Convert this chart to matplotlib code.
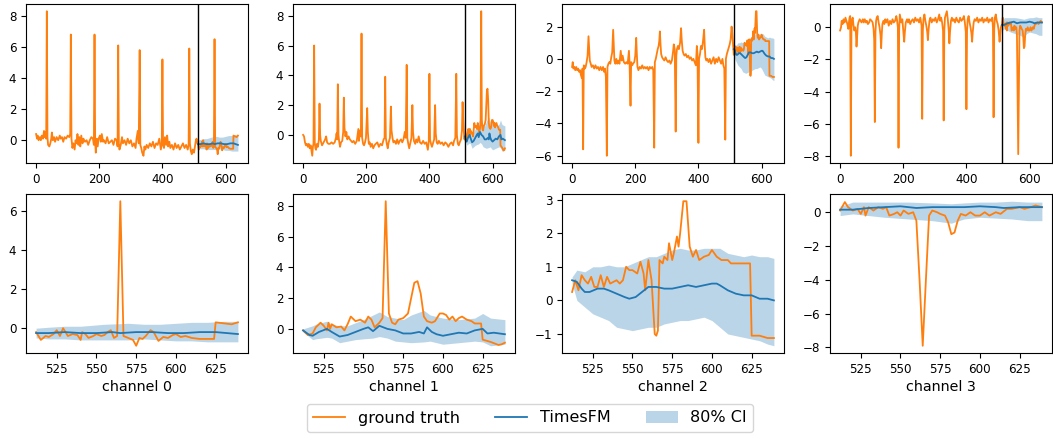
import matplotlib
matplotlib.use("Agg")
import matplotlib.pyplot as plt
from matplotlib.lines import Line2D
from matplotlib.patches import Patch
from matplotlib.ticker import MultipleLocator

CONTEXT_END = 512
channel_names = ["channel 0", "channel 1", "channel 2", "channel 3"]

# ---- observed context (t < 512), (t, value) vertices ----
history_ch0 = [(0, 0.4), (3, 0.1), (5, 0.3), (8, 0.0), (12, 0.2), (15, 0.0), (18, 0.3), (22, 0.1), (25, 0.6), (27, 0.2),
               (30, 0.5), (32, 0.1), (34, 8.3), (36, 0.2), (38, -0.3), (42, -0.4), (45, -0.2), (48, 0.1), (50, 0.5),
               (53, 0.0), (57, 0.2), (60, -0.1), (65, 0.2), (70, 0.0), (75, 0.3), (78, 0.1), (82, 0.2), (86, -0.1),
               (90, 0.2), (95, 0.1), (100, 0.3), (105, 0.2), (108, 0.4), (110, 6.8), (112, 0.1), (115, -0.5),
               (118, -0.2), (122, -0.6), (125, 0.0), (128, -0.2), (131, 0.4), (134, -0.3), (137, 0.2), (140, -0.4),
               (143, 0.3), (147, -0.2), (150, 0.1), (155, -0.1), (160, 0.0), (165, -0.3), (170, 0.0), (175, 0.2),
               (180, 0.1), (183, -0.3), (185, 6.8), (187, -0.1), (189, -0.8), (192, 0.1), (195, -0.4), (198, 0.1),
               (202, 0.3), (205, -0.1), (208, 0.4), (212, -0.1), (215, 0.0), (220, -0.2), (225, 0.2), (230, -0.2),
               (235, -0.1), (240, 0.0), (245, -0.3), (250, 0.1), (255, 0.0), (258, -0.4), (260, 6.1), (262, -0.2),
               (264, -0.6), (268, -0.3), (272, 0.2), (275, -0.2), (280, 0.0), (285, -0.3), (290, 0.1), (295, -0.2),
               (300, 0.0), (305, -0.4), (310, -0.2), (315, -0.5), (318, 0.1), (322, 0.6), (325, -0.2), (328, 5.8),
               (330, -0.3), (333, -0.5), (336, -0.8), (340, -1.0), (343, -0.4), (346, -0.6), (350, -0.3), (355, -0.5),
               (360, -0.2), (365, -0.4), (370, -0.1), (375, -0.5), (380, -0.2), (385, -0.3), (390, 0.1), (395, -0.6),
               (398, -0.2), (400, 5.2), (402, -0.3), (405, -0.5), (408, 0.2), (412, -0.3), (415, 0.3), (418, -0.4),
               (422, -0.1), (425, -0.5), (430, -0.3), (435, -0.6), (440, -0.2), (445, -0.5), (450, -0.3), (455, -0.6),
               (460, -0.4), (465, -0.2), (470, -0.5), (475, -0.3), (480, -0.6), (483, -0.3), (485, 5.9), (487, -0.2),
               (490, -0.7), (493, -0.9), (496, -0.6), (500, -0.8), (503, -0.4), (506, 0.0), (508, 0.1), (511, -0.2)]

history_ch1 = [(0, 0.0), (3, -0.1), (6, -0.5), (9, -0.7), (12, -0.6), (15, -0.8), (18, -0.6), (21, -0.9), (24, -0.7),
               (27, -1.1), (29, -1.4), (31, -0.8), (33, -0.6), (35, 6.0), (37, -0.5), (39, -0.9), (41, -1.0), (44, -0.6),
               (47, -0.8), (50, -0.3), (52, 2.1), (54, 0.0), (56, -0.4), (60, -0.7), (65, -0.5), (70, -0.3), (73, -0.1),
               (76, -0.5), (80, -0.6), (85, -0.6), (90, -0.5), (95, -0.6), (100, -0.5), (104, -0.2), (106, 0.1),
               (108, -0.3), (110, 3.4), (112, 0.0), (114, -0.4), (117, -0.8), (120, -0.5), (124, -0.4), (127, 0.2),
               (129, 2.5), (131, 0.5), (134, -0.1), (137, 0.2), (140, -0.3), (144, -0.1), (148, -0.3), (152, -0.4),
               (156, -0.5), (160, -0.4), (165, -0.6), (170, -0.4), (175, 0.4), (177, -0.4), (180, 0.3), (183, -0.1),
               (185, 6.8), (187, -0.2), (190, -0.6), (193, -0.7), (196, -0.5), (199, -0.2), (203, 1.8), (205, 0.2),
               (208, -0.6), (211, -0.5), (214, -0.8), (218, -0.6), (222, -0.9), (226, -0.7), (230, -0.6), (235, -0.5),
               (240, -0.8), (245, -0.6), (250, -0.7), (255, -0.3), (258, -0.2), (260, 3.9), (262, -0.2), (265, -0.6),
               (268, -0.9), (271, -0.5), (275, -0.2), (278, 1.9), (280, 0.3), (283, -0.2), (286, -0.5), (290, -0.4),
               (294, -0.6), (298, -0.3), (302, -0.6), (306, -0.4), (310, -0.3), (314, -0.5), (318, -0.3), (322, 0.2),
               (325, -0.2), (328, 4.7), (330, -0.2), (333, -0.6), (336, -0.9), (340, -0.5), (343, -0.2), (346, 2.0),
               (348, 0.2), (351, -0.4), (355, -0.6), (358, -0.3), (362, -0.5), (366, -0.1), (370, -0.5), (375, -0.6),
               (380, -0.4), (385, -0.6), (390, -0.5), (395, -1.0), (398, -0.4), (400, 4.1), (402, -0.3), (405, -0.6),
               (408, -0.8), (412, -0.5), (415, -0.3), (418, 2.0), (420, 0.1), (423, -0.5), (426, -0.6), (430, -0.4),
               (435, -0.6), (440, -0.5), (445, -0.7), (450, -0.5), (455, -0.6), (460, -0.8), (465, -0.6), (470, -0.5),
               (475, -0.7), (478, -0.4), (482, -0.2), (485, 4.1), (487, 0.0), (490, -0.6), (493, -0.7), (496, -0.5),
               (500, -0.3), (503, 0.3), (505, 2.2), (507, 1.0), (509, 0.2), (511, -0.3)]

history_ch2 = [(0, -0.5), (2, -0.2), (4, -0.6), (7, -0.5), (10, -0.7), (13, -0.5), (16, -0.7), (19, -0.6), (22, -0.8),
               (25, -0.7), (28, -1.0), (31, -1.2), (33, -0.6), (35, -5.6), (37, -0.4), (40, -0.6), (43, -0.5), (46, -0.2),
               (49, 0.2), (52, 1.4), (54, 0.6), (56, -0.1), (59, -0.3), (62, -0.5), (66, -0.4), (70, -0.6), (74, -0.4),
               (78, -0.6), (82, -0.5), (86, -0.7), (90, -0.5), (94, -0.7), (98, -0.5), (101, -0.8), (104, -0.6),
               (107, -1.1), (110, -6.0), (112, -0.5), (115, -0.3), (118, -0.2), (121, -0.3), (124, 0.1), (127, 0.4),
               (130, 1.8), (132, 0.8), (134, -0.1), (137, -0.3), (140, 0.0), (143, -0.3), (146, -0.1), (150, -0.3),
               (154, 0.5), (157, -0.1), (160, 0.2), (164, -0.2), (168, -0.3), (172, -0.2), (176, -0.3), (180, 0.5),
               (182, -0.3), (185, -2.9), (187, -0.2), (190, -0.4), (193, -0.3), (197, -0.2), (200, 0.2), (203, 1.3),
               (205, 0.3), (207, -0.5), (210, -0.7), (214, -0.5), (218, -0.6), (222, -0.4), (226, -0.6), (230, -0.5),
               (234, -0.6), (238, -0.5), (242, -0.7), (246, -0.5), (250, -0.6), (254, -0.5), (257, -0.7), (260, -5.5),
               (262, -0.2), (265, 0.0), (268, 0.3), (271, 0.6), (274, 0.8), (276, 1.1), (278, 1.7), (280, 0.9),
               (282, 0.3), (285, 0.1), (288, 0.0), (292, -0.1), (296, 0.1), (300, -0.1), (304, -0.2), (308, -0.1),
               (312, -0.3), (316, -0.1), (320, 0.5), (322, 0.9), (325, 0.6), (328, -4.5), (330, 0.2), (332, 0.6),
               (335, 0.8), (338, 0.6), (342, 1.0), (345, 1.9), (347, 1.2), (350, 0.5), (353, 0.3), (356, 0.2),
               (360, 0.3), (364, 0.1), (368, 0.2), (372, 0.0), (376, 0.1), (380, -0.1), (384, 0.0), (388, -0.2),
               (392, -0.4), (395, 0.8), (397, 0.3), (400, -5.2), (402, 0.0), (405, 0.3), (408, 0.8), (411, 0.6),
               (414, 1.0), (418, 1.8), (420, 0.8), (422, 0.1), (425, -0.1), (428, 0.0), (432, -0.2), (436, 0.0),
               (440, -0.3), (444, -0.1), (448, 0.1), (452, -0.3), (456, 0.0), (460, -0.2), (464, 0.1), (468, -0.1),
               (472, -0.3), (476, 0.0), (479, -0.4), (482, -0.6), (485, -5.0), (487, 0.0), (490, 0.3), (493, 0.5),
               (496, 0.7), (499, 0.9), (502, 1.2), (505, 2.0), (507, 1.6), (509, 1.0), (511, 0.5)]

history_ch3 = [(0, -0.2), (3, 0.0), (5, 0.4), (8, 0.2), (11, 0.5), (14, 0.3), (17, 0.6), (20, 0.4), (23, 0.2),
               (26, -0.1), (28, 0.3), (30, 0.6), (32, 0.7), (34, -8.0), (36, 0.0), (38, 0.5), (40, 0.6), (42, 0.2),
               (45, -0.2), (48, 0.0), (50, -0.3), (52, -1.2), (54, -0.5), (56, 0.1), (58, 0.3), (62, 0.5), (65, 0.4),
               (68, 0.3), (72, 0.5), (75, 0.3), (78, 0.5), (82, 0.3), (85, 0.4), (88, 0.2), (92, 0.3), (95, 0.5),
               (100, 0.4), (103, 0.3), (106, -0.1), (108, -0.8), (110, -5.9), (112, -0.3), (114, 0.4), (116, 0.6),
               (119, 0.7), (122, 0.3), (125, 0.0), (128, -0.5), (130, -1.3), (132, -0.4), (134, 0.2), (137, 0.4),
               (140, 0.2), (143, 0.5), (146, 0.3), (150, 0.5), (154, 0.1), (158, 0.4), (162, 0.2), (166, 0.5),
               (170, 0.3), (174, 0.4), (178, 0.7), (180, 0.5), (183, 0.0), (185, -7.5), (187, -0.2), (189, 0.8),
               (191, 0.6), (194, 0.3), (197, 0.5), (200, -0.2), (203, -0.9), (205, -0.3), (208, 0.3), (212, 0.5),
               (215, 0.3), (218, 0.5), (222, 0.2), (226, 0.4), (230, 0.5), (234, 0.3), (238, 0.6), (242, 0.4),
               (246, 0.5), (250, 0.3), (254, 0.6), (258, 0.1), (260, -5.7), (262, -0.2), (264, 0.5), (267, 0.8),
               (270, 0.4), (273, 0.1), (276, -0.3), (278, -0.8), (280, -0.2), (283, 0.4), (286, 0.6), (290, 0.3),
               (294, 0.5), (298, 0.4), (302, 0.6), (306, 0.3), (310, 0.5), (314, 0.8), (317, 0.4), (320, 0.6),
               (323, 0.3), (326, -0.2), (328, -5.8), (330, -0.2), (332, 0.6), (335, 0.8), (338, 1.0), (341, 0.5),
               (344, -0.2), (346, -1.0), (348, -0.3), (351, 0.4), (354, 0.6), (357, 0.4), (360, 0.5), (364, 0.3),
               (368, 0.6), (372, 0.4), (376, 0.3), (380, 0.6), (384, 0.4), (388, 0.5), (392, 0.7), (395, 0.3),
               (398, -0.3), (400, -5.1), (402, -0.2), (404, 0.5), (407, 0.7), (410, 0.3), (413, 0.0), (416, -0.4),
               (418, -0.9), (420, -0.3), (423, 0.3), (426, 0.5), (430, 0.4), (434, 0.6), (438, 0.3), (442, 0.5),
               (446, 0.4), (450, 0.6), (454, 0.3), (458, 0.5), (462, 0.4), (466, 0.6), (470, 0.3), (474, 0.5),
               (478, 0.4), (482, 0.6), (484, 0.0), (486, -5.6), (488, -0.1), (490, 0.6), (493, 0.8), (496, 0.4),
               (499, 0.2), (502, -0.2), (505, -0.9), (507, -0.4), (509, 0.0), (511, 0.1)]

# ---- ground truth over the forecast horizon (t >= 512) ----
horizon_ch0 = [(512, -0.2), (515, -0.6), (518, -0.4), (520, -0.45), (523, -0.3), (525, -0.1), (527, -0.4), (529, 0.0),
               (532, -0.4), (535, -0.3), (538, -0.35), (540, -0.6), (541, -0.2), (543, -0.3), (545, -0.5), (548, -0.4),
               (550, -0.3), (553, -0.4), (555, -0.35), (557, -0.2), (559, -0.1), (561, -0.5), (563, -0.4), (565, 6.5),
               (567, -0.4), (570, -0.5), (573, -0.6), (575, -0.9), (577, -0.5), (579, -0.55), (581, -0.4), (584, -0.1),
               (586, -0.2), (589, -0.65), (592, -0.45), (595, -0.5), (598, -0.35), (600, -0.3), (603, -0.45),
               (606, -0.4), (610, -0.5), (615, -0.55), (620, -0.55), (624, -0.55), (625, 0.3), (630, 0.25),
               (635, 0.2), (639, 0.3)]

horizon_ch1 = [(512, -0.1), (515, -0.4), (518, -0.3), (520, 0.1), (523, 0.4), (525, 0.2), (527, -0.1), (528, 0.4),
               (529, 0.0), (530, 0.3), (533, 0.1), (536, 0.15), (538, -0.1), (540, 0.3), (542, 0.8), (545, 0.5),
               (548, 0.6), (551, 0.4), (553, 0.8), (555, 0.6), (557, 0.1), (560, 0.4), (562, 0.7), (564, 8.3),
               (566, 1.0), (568, 0.4), (570, 0.3), (572, 0.6), (575, 0.7), (578, 1.0), (580, 2.0), (582, 3.0),
               (584, 3.1), (586, 2.3), (588, 0.8), (590, 0.5), (593, 0.4), (595, 0.5), (598, 1.0), (600, 1.0),
               (602, 0.9), (604, 0.6), (606, 0.8), (608, 0.5), (610, 0.7), (612, 0.8), (615, 0.6), (618, 0.5),
               (620, 0.35), (624, 0.35), (625, -0.7), (630, -0.85), (635, -1.05), (637, -1.0), (639, -0.9)]

horizon_ch2 = [(512, 0.25), (514, 0.6), (516, 0.3), (518, 0.75), (520, 0.6), (522, 0.5), (524, 0.7), (526, 0.4),
               (528, 0.4), (530, 0.75), (532, 0.4), (534, 0.7), (536, 0.5), (540, 0.6), (542, 0.5), (544, 0.6),
               (546, 1.0), (548, 0.9), (550, 0.9), (553, 0.8), (555, 1.15), (557, 0.8), (558, 0.3), (560, 1.2),
               (562, 0.6), (564, -1.0), (565, -1.05), (566, -0.9), (567, 1.2), (569, 1.1), (570, 1.3), (572, 1.2),
               (573, 1.7), (575, 1.2), (576, 1.4), (578, 1.9), (579, 1.6), (580, 2.0), (582, 2.95), (584, 2.95),
               (586, 1.6), (588, 1.3), (590, 1.5), (592, 1.2), (595, 1.3), (598, 1.35), (600, 1.5), (603, 1.3),
               (606, 1.2), (610, 1.2), (612, 1.1), (615, 1.1), (620, 1.1), (624, 1.1), (625, -1.05), (630, -1.05),
               (635, -1.12), (639, -1.12)]

horizon_ch3 = [(512, 0.1), (515, 0.6), (517, 0.3), (520, 0.1), (523, 0.2), (525, -0.1), (527, 0.3), (528, -0.2),
               (530, 0.3), (533, 0.1), (536, 0.3), (539, 0.2), (541, 0.3), (543, -0.2), (546, -0.1), (548, 0.0),
               (550, -0.2), (552, 0.1), (555, -0.1), (558, 0.0), (560, -0.5), (562, -4.0), (564, -7.9), (566, -4.0),
               (568, -0.2), (570, 0.1), (573, 0.0), (575, -0.1), (578, -0.2), (580, -0.6), (582, -1.3), (584, -1.2),
               (586, -0.5), (588, -0.1), (591, -0.2), (594, 0.0), (597, -0.2), (600, -0.2), (603, 0.0), (606, -0.2),
               (610, 0.0), (613, -0.1), (617, 0.2), (620, 0.2), (625, 0.3), (628, 0.2), (632, 0.3), (635, 0.4),
               (639, 0.3)]

# ---- TimesFM point forecast ----
forecast_ch0 = [(512, -0.25), (520, -0.25), (530, -0.2), (540, -0.25), (550, -0.25), (560, -0.2), (565, -0.25),
                (575, -0.2), (585, -0.2), (595, -0.25), (605, -0.25), (615, -0.2), (625, -0.2), (632, -0.25),
                (639, -0.3)]
forecast_ch1 = [(512, -0.1), (516, -0.4), (518, -0.45), (522, -0.2), (527, 0.0), (530, -0.2), (535, -0.5),
                (540, -0.4), (545, -0.2), (550, 0.0), (553, 0.1), (556, -0.15), (560, 0.2), (565, 0.0), (570, -0.1),
                (575, -0.3), (580, -0.3), (585, -0.2), (588, -0.3), (590, 0.1), (593, -0.2), (596, -0.35),
                (600, -0.45), (605, -0.35), (610, -0.25), (615, -0.3), (620, -0.1), (625, 0.0), (628, -0.3),
                (632, -0.25), (639, -0.35)]
forecast_ch2 = [(512, 0.6), (515, 0.55), (518, 0.35), (520, 0.25), (523, 0.25), (528, 0.35), (532, 0.35),
                (535, 0.3), (540, 0.2), (545, 0.1), (548, 0.05), (552, 0.1), (556, 0.25), (560, 0.4), (565, 0.4),
                (570, 0.35), (575, 0.35), (580, 0.4), (585, 0.45), (590, 0.4), (595, 0.45), (600, 0.5), (603, 0.5),
                (605, 0.45), (610, 0.3), (615, 0.2), (620, 0.15), (625, 0.15), (630, 0.05), (635, 0.05), (639, 0.0)]
forecast_ch3 = [(512, 0.15), (520, 0.15), (530, 0.25), (540, 0.3), (550, 0.35), (560, 0.25), (570, 0.3),
                (580, 0.3), (590, 0.3), (600, 0.35), (610, 0.3), (615, 0.25), (625, 0.3), (639, 0.3)]

# ---- 80% interval: (t, lower, upper) ----
interval_ch0 = [(512, -0.5, 0.0), (520, -0.55, 0.05), (530, -0.55, 0.1), (540, -0.6, 0.1), (555, -0.6, 0.2),
                (570, -0.6, 0.25), (580, -0.55, 0.2), (590, -0.6, 0.2), (600, -0.65, 0.25), (610, -0.65, 0.3),
                (620, -0.7, 0.3), (630, -0.7, 0.35), (639, -0.7, 0.35)]
interval_ch1 = [(512, -0.2, 0.0), (518, -0.7, 0.2), (520, -0.65, 0.3), (527, -0.55, 0.5), (530, -0.6, 0.3),
                (535, -0.9, 0.2), (540, -0.8, 0.2), (545, -0.7, 0.4), (550, -0.65, 0.6), (556, -0.6, 0.9),
                (560, -0.5, 1.1), (565, -0.6, 0.8), (570, -0.8, 0.7), (575, -0.85, 0.6), (580, -0.9, 0.9),
                (588, -0.85, 1.2), (592, -0.8, 0.9), (600, -1.0, 0.7), (610, -0.9, 0.6), (620, -0.8, 0.7),
                (625, -0.85, 1.0), (630, -1.1, 0.7), (639, -1.0, 0.6)]
interval_ch2 = [(512, 0.5, 0.7), (515, 0.0, 0.9), (520, -0.2, 0.85), (525, -0.4, 1.0), (530, -0.5, 1.0),
                (535, -0.6, 1.05), (540, -0.8, 1.0), (545, -0.85, 1.0), (550, -0.9, 1.1), (555, -0.85, 1.2),
                (560, -0.8, 1.3), (565, -0.8, 1.3), (570, -0.7, 1.4), (575, -0.65, 1.5), (580, -0.6, 1.55),
                (585, -0.6, 1.5), (590, -0.55, 1.5), (595, -0.5, 1.55), (600, -0.6, 1.55), (605, -0.8, 1.55),
                (610, -1.0, 1.4), (615, -1.05, 1.35), (620, -1.1, 1.3), (625, -1.15, 1.35), (630, -1.2, 1.3),
                (635, -1.3, 1.3), (639, -1.35, 1.25)]
interval_ch3 = [(512, -0.2, 0.35), (520, -0.1, 0.6), (530, -0.2, 0.6), (540, -0.3, 0.6), (555, -0.4, 0.6),
                (570, -0.5, 0.55), (582, -0.65, 0.5), (590, -0.4, 0.55), (600, -0.3, 0.6), (610, -0.35, 0.6),
                (620, -0.4, 0.65), (630, -0.5, 0.6), (639, -0.5, 0.6)]

histories = [history_ch0, history_ch1, history_ch2, history_ch3]
horizons = [horizon_ch0, horizon_ch1, horizon_ch2, horizon_ch3]
forecasts = [forecast_ch0, forecast_ch1, forecast_ch2, forecast_ch3]
intervals = [interval_ch0, interval_ch1, interval_ch2, interval_ch3]

TRUTH_COLOR = "tab:orange"
FC_COLOR = "tab:blue"
CI_ALPHA = 0.3
LW = 1.3
TICK_SIZE = 8.6

W, H = 1053, 438
fig = plt.figure(figsize=(W / 100, H / 100), dpi=100)
col_left_px = [26, 293, 562, 830]
ax_w_px, ax_h_px = 222, 159
top_y_px, bot_y_px = 163, 353  # bottom edges, measured from the top


def unzip(pairs):
    return [p[0] for p in pairs], [p[1] for p in pairs]


def draw(ax, truth, fc, ci):
    tx, ty = unzip(truth)
    fx, fy = unzip(fc)
    cx = [c[0] for c in ci]
    lo = [c[1] for c in ci]
    hi = [c[2] for c in ci]
    ax.plot(tx, ty, color=TRUTH_COLOR, lw=LW)
    ax.plot(fx, fy, color=FC_COLOR, lw=LW)
    ax.fill_between(cx, lo, hi, color=FC_COLOR, alpha=CI_ALPHA, lw=0)
    span = max(max(ty), max(hi)) - min(min(ty), min(lo))
    ax.yaxis.set_major_locator(MultipleLocator(1 if span < 5 else 2))
    ax.tick_params(labelsize=TICK_SIZE)


for i in range(4):
    left = col_left_px[i] / W
    ax_top = fig.add_axes([left, 1 - top_y_px / H, ax_w_px / W, ax_h_px / H])
    ax_bot = fig.add_axes([left, 1 - bot_y_px / H, ax_w_px / W, ax_h_px / H])

    draw(ax_top, histories[i] + horizons[i], forecasts[i], intervals[i])
    ax_top.axvline(CONTEXT_END, color="black", lw=1)
    ax_top.set_xticks([0, 200, 400, 600])

    draw(ax_bot, horizons[i], forecasts[i], intervals[i])
    ax_bot.set_xticks([525, 550, 575, 600, 625])
    ax_bot.set_xlabel(channel_names[i], fontsize=10.3, labelpad=3)

handles = [Line2D([], [], color=TRUTH_COLOR, lw=LW),
           Line2D([], [], color=FC_COLOR, lw=LW),
           Patch(facecolor=FC_COLOR, alpha=CI_ALPHA)]
fig.legend(handles, ["ground truth", "TimesFM", "80% CI"], loc="center",
           bbox_to_anchor=(530 / W, 1 - 418 / H), ncol=3, fontsize=11.5,
           columnspacing=2.2)

fig.savefig("out.png", dpi=100)
